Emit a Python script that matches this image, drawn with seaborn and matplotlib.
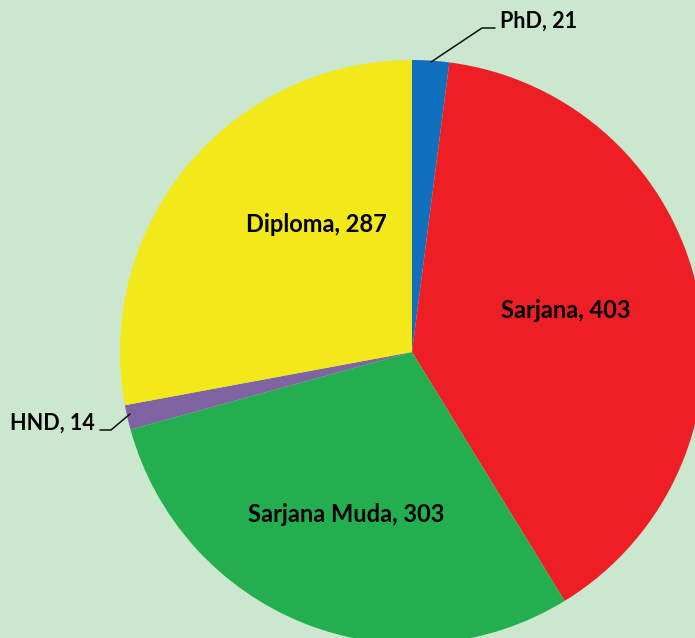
import matplotlib
matplotlib.use('Agg')
import matplotlib.pyplot as plt
import seaborn as sns

# Daten
labels = ['PhD', 'Sarjana', 'Sarjana Muda', 'HND', 'Diploma']
values = [21, 403, 303, 14, 287]
colors = ['#1170BE', '#EE1F24', '#23AF4F', '#8064A2', '#F2E81A']

sns.set_theme(style='white')
plt.rcParams['font.family'] = ['Lato', 'DejaVu Sans']

bg = '#CBE8CE'
fig = plt.figure(figsize=(6.95, 6.38), dpi=100, facecolor=bg)
ax = fig.add_axes([0, 0, 1, 1])
ax.set_facecolor(bg)

# Kreisdiagramm in Pixelkoordinaten
cx, cy, r = 412, 638 - 352, 292
wedges, _ = ax.pie(values, colors=colors, startangle=90, counterclock=False,
                   center=(cx, cy), radius=r, frame=True,
                   wedgeprops=dict(linewidth=0))
ax.set_xlim(0, 695)
ax.set_ylim(0, 638)
ax.set_aspect('equal')
ax.axis('off')

inner = dict(fontsize=17, fontweight='bold', color='black')
outer = dict(fontsize=15.5, fontweight='bold', color='black')

# Beschriftungen innen
ax.text(316, 638 - 224, f'{labels[4]}, {values[4]}', ha='center', va='center', **inner)
ax.text(566, 638 - 310, f'{labels[1]}, {values[1]}', ha='center', va='center', **inner)
ax.text(346, 638 - 515, f'{labels[2]}, {values[2]}', ha='center', va='center', **inner)

# Beschriftungen aussen mit Linien
ax.plot([431, 482, 495], [638 - 62, 638 - 28, 638 - 28], color='#111111', lw=1.1)
ax.text(500, 638 - 21, f'{labels[0]}, {values[0]}', ha='left', va='center', **outer)
ax.plot([130, 111, 100], [638 - 414, 638 - 430, 638 - 430], color='#111111', lw=1.1)
ax.text(95, 638 - 423, f'{labels[3]}, {values[3]}', ha='right', va='center', **outer)

fig.savefig('out.png', dpi=100, facecolor=bg)
